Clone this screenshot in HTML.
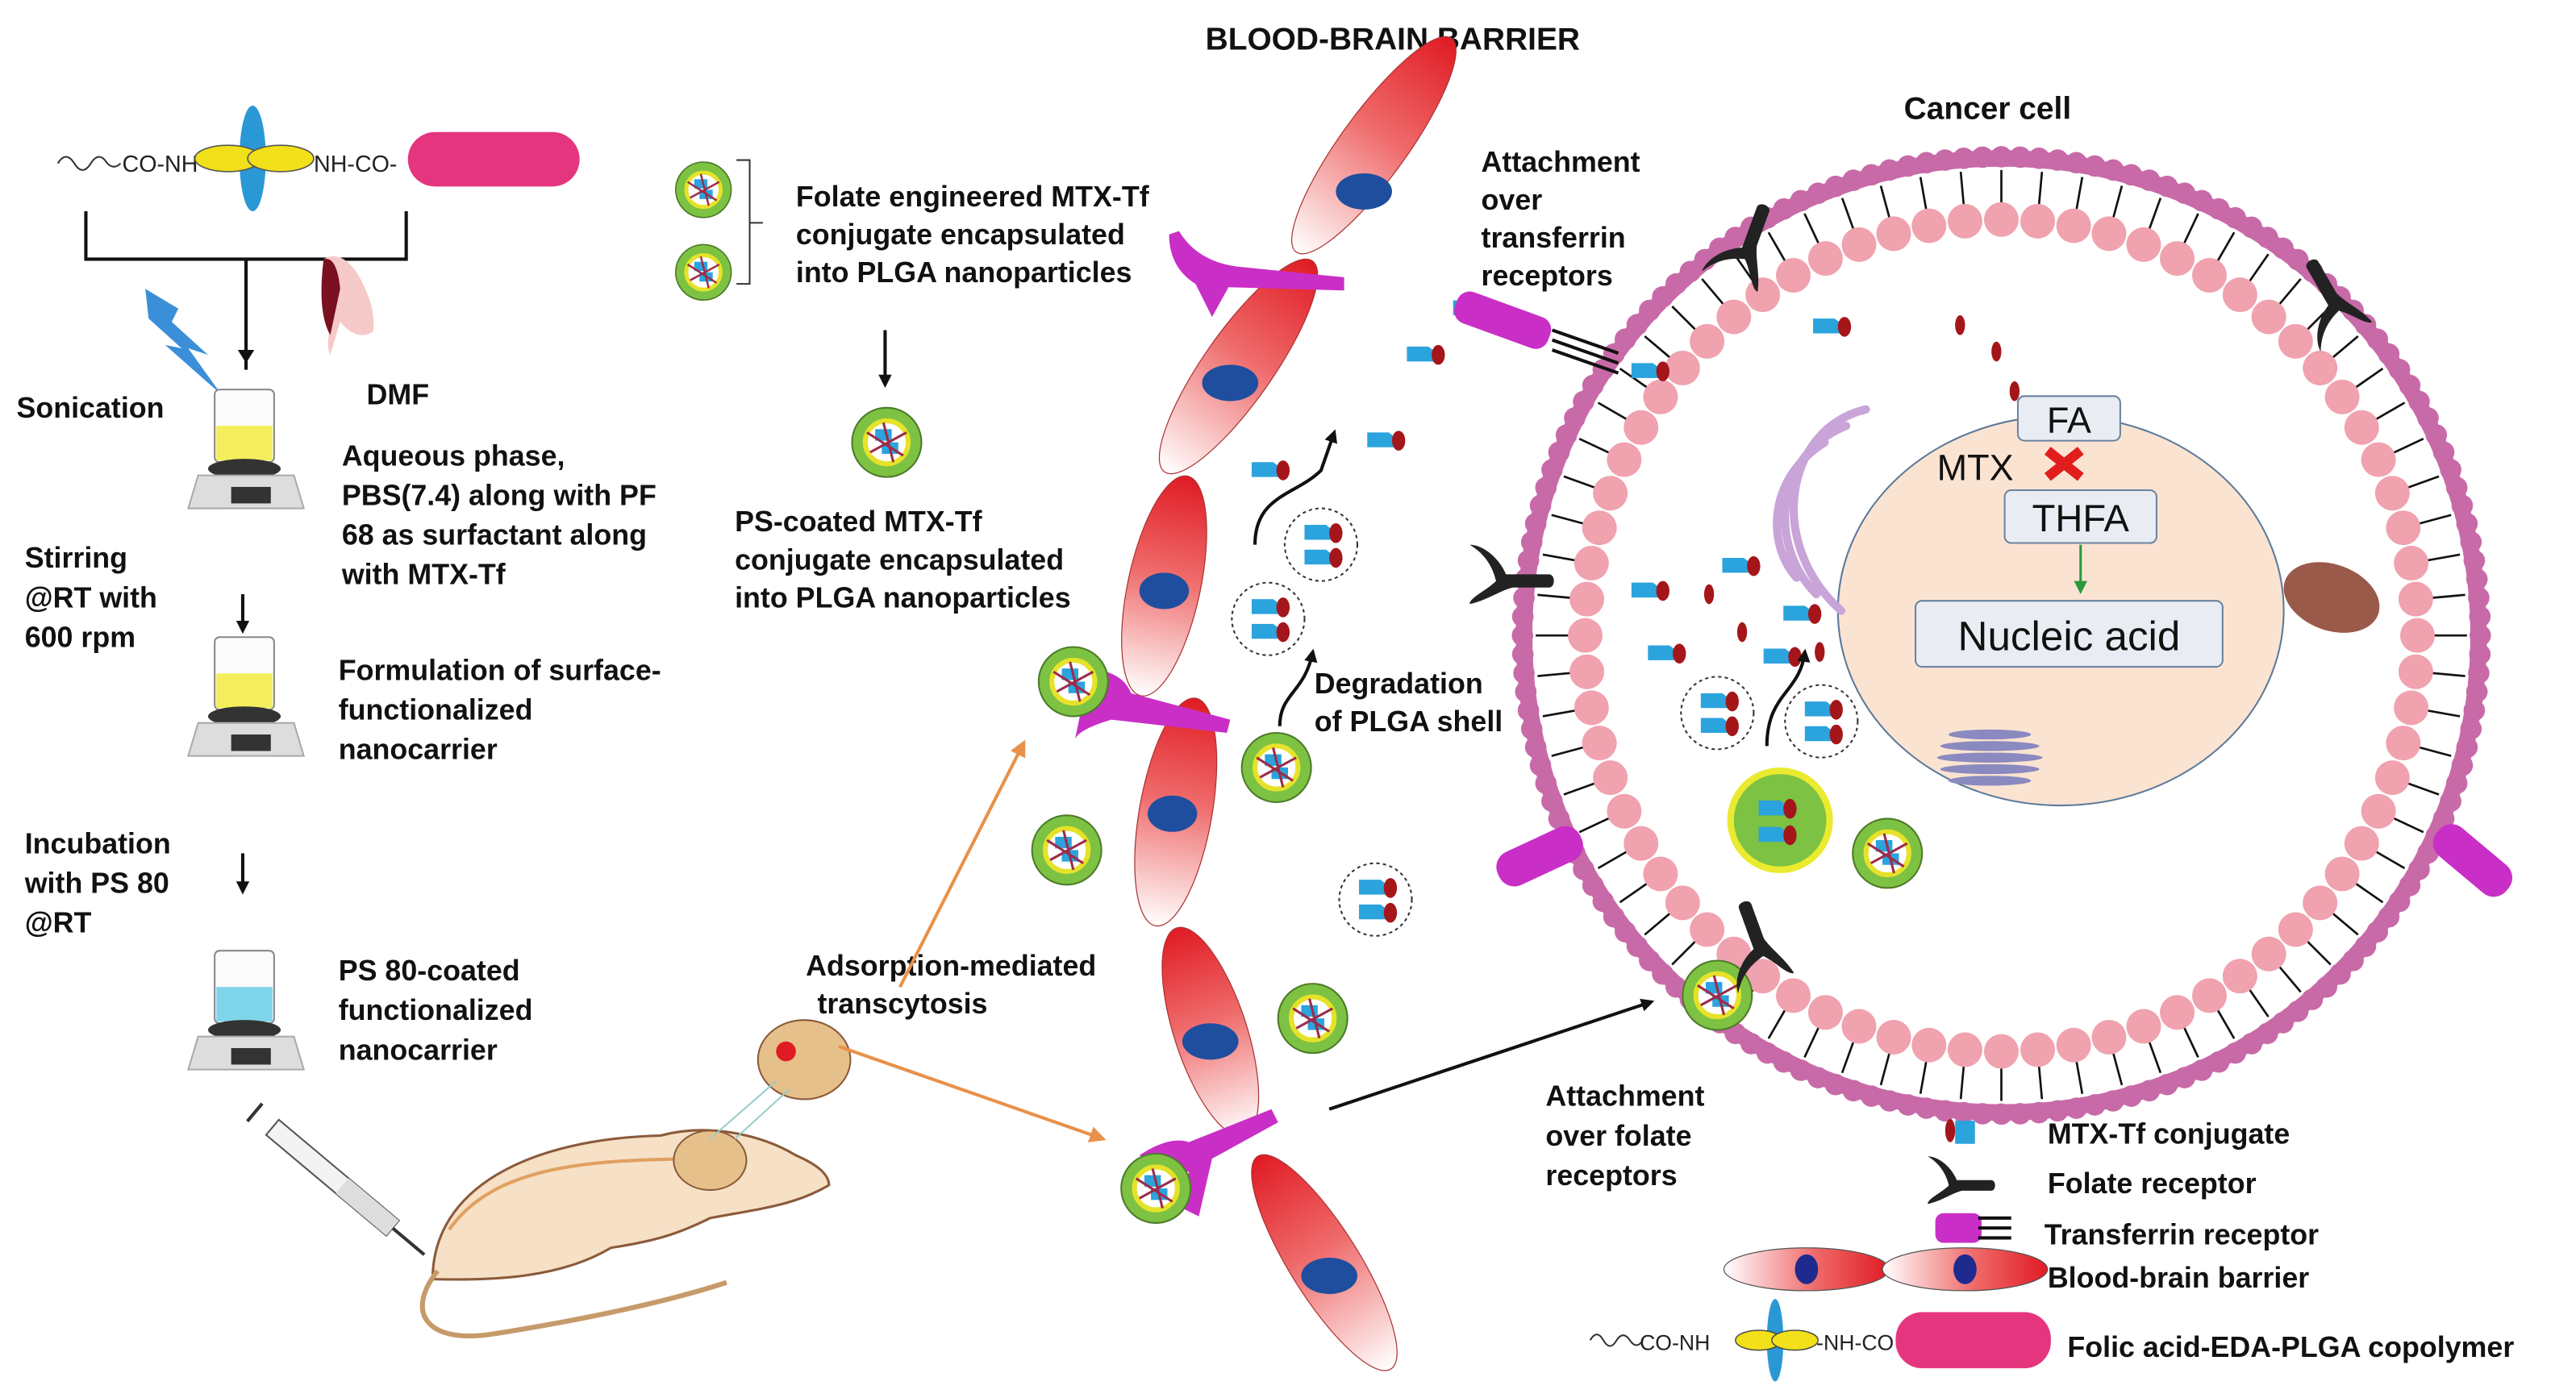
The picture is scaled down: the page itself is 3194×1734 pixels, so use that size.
<!DOCTYPE html>
<html><head><meta charset="utf-8"><style>
html,body{margin:0;padding:0;background:#fff;}
svg{display:block;}
text{font-family:"Liberation Sans",Arial,sans-serif;}
.b{font-weight:bold;font-size:17.5px;fill:#111;}
</style></head><body>
<svg id="s" width="3194" height="1734" viewBox="0 0 1560 847" preserveAspectRatio="none" xmlns="http://www.w3.org/2000/svg">
<defs>
<linearGradient id="cg" x1="0" x2="1" y1="0" y2="0"><stop offset="0" stop-color="#fff"/><stop offset="0.55" stop-color="#ef6b6b"/><stop offset="1" stop-color="#e01b24"/></linearGradient>
<marker id="ak" markerWidth="8" markerHeight="8" refX="6" refY="4" orient="auto" markerUnits="userSpaceOnUse"><path d="M0,0L8,4L0,8z" fill="#111"/></marker>
<marker id="ao" markerWidth="10" markerHeight="10" refX="8" refY="5" orient="auto" markerUnits="userSpaceOnUse"><path d="M0,0L10,5L0,10z" fill="#e8914a"/></marker>
<marker id="ag" markerWidth="8" markerHeight="8" refX="6" refY="4" orient="auto" markerUnits="userSpaceOnUse"><path d="M0,0L8,4L0,8z" fill="#2a9a3a"/></marker>
<g id="np"><circle r="21" fill="#7dc242" stroke="#4c7a2a" stroke-width="1"/><circle r="13" fill="#fff" stroke="#e6e22a" stroke-width="3"/><rect x="-7" y="-8" width="10" height="7" fill="#2ba3dd"/><rect x="-3" y="0" width="10" height="7" fill="#2ba3dd"/><path d="M-12,-6L10,8M-10,6L12,-6M-2,-12L4,12" stroke="#9b2c4a" stroke-width="1.5"/></g>
<g id="mt"><path d="M0,-5h13l4,3v6h-17z" fill="#2ba3dd"/><ellipse cx="19" cy="0" rx="4" ry="6" fill="#a4161a"/></g>
<g id="ves"><circle r="22" fill="none" stroke="#333" stroke-dasharray="2 2"/><use href="#mt" x="-10" y="-7"/><use href="#mt" x="-10" y="8"/></g>
<g id="fr"><path d="M0,0 C-4,-10 -14,-18 -22,-18 C-12,-12 -8,-4 -6,4 C-12,10 -22,14 -22,18 C-12,16 -4,10 4,8 L26,8 C30,8 30,0 26,0 Z" fill="#222"/></g>
</defs>

<text x="730" y="30" class="b" style="font-size:19px">BLOOD-BRAIN BARRIER</text>
<text x="1153" y="72" class="b" style="font-size:19px">Cancer cell</text>

<path d="M35,99 q5,-8 10,0 q5,8 10,0 q5,-8 10,0 q4,4 8,0" fill="none" stroke="#333"/>
<text x="74" y="104" font-size="14" fill="#222">CO-NH</text>
<ellipse cx="153" cy="96" rx="8" ry="32" fill="#2b98d6"/>
<ellipse cx="138" cy="96" rx="20" ry="8" fill="#f2e01a" stroke="#555" stroke-width=".8"/>
<ellipse cx="170" cy="96" rx="20" ry="8" fill="#f2e01a" stroke="#555" stroke-width=".8"/>
<text x="190" y="104" font-size="14" fill="#222">NH-CO-</text>
<rect x="247" y="80" width="104" height="33" rx="16.5" fill="#e6357f"/>
<path d="M52,128 V157 H246 V128 M149,157 V224" fill="none" stroke="#111" stroke-width="2"/>
<path d="M149,220 l-5,-8 h10z" fill="#111"/>
<path d="M88,175 l20,12 l-4,8 l22,20 l-12,-4 l20,28 l-34,-30 l10,2 l-20,-18z" fill="#3b8fd8"/>
<path d="M196,157 q10,-6 20,8 q12,20 10,36 q-10,6 -20,-6 l-6,20 q-4,-8 4,-30 z" fill="#f6c9c9"/><path d="M196,157 q8,-2 10,18 l-6,28 q-8,-14 -4,-46z" fill="#7a1020"/>
<text x="10" y="253" class="b">Sonication</text>
<text x="222" y="245" class="b">DMF</text>

<g id="bk"><rect x="130" y="236" width="36" height="44" rx="3" fill="#fbfbfb" stroke="#888"/><rect x="131" y="258" width="34" height="21" fill="#f4ee5c"/><ellipse cx="148" cy="284" rx="22" ry="6" fill="#333"/><path d="M120,288 h58 l6,20 h-70z" fill="#ddd" stroke="#aaa"/><rect x="140" y="295" width="24" height="10" fill="#333"/></g>
<text x="207" y="282" class="b">Aqueous phase,</text>
<text x="207" y="306" class="b">PBS(7.4) along with PF</text>
<text x="207" y="330" class="b">68 as surfactant along</text>
<text x="207" y="354" class="b">with MTX-Tf</text>
<text x="15" y="344" class="b">Stirring</text>
<text x="15" y="368" class="b">@RT with</text>
<text x="15" y="392" class="b">600 rpm</text>
<path d="M147,360 V382" stroke="#111" stroke-width="2" marker-end="url(#ak)"/>
<use href="#bk" y="150"/>
<text x="205" y="412" class="b">Formulation of surface-</text>
<text x="205" y="436" class="b">functionalized</text>
<text x="205" y="460" class="b">nanocarrier</text>
<text x="15" y="517" class="b">Incubation</text>
<text x="15" y="541" class="b">with PS 80</text>
<text x="15" y="565" class="b">@RT</text>
<path d="M147,517 V540" stroke="#111" stroke-width="2" marker-end="url(#ak)"/>
<g transform="translate(0,340)"><rect x="130" y="236" width="36" height="44" rx="3" fill="#fbfbfb" stroke="#888"/><rect x="131" y="258" width="34" height="21" fill="#7fd6ea"/><ellipse cx="148" cy="284" rx="22" ry="6" fill="#333"/><path d="M120,288 h58 l6,20 h-70z" fill="#ddd" stroke="#aaa"/><rect x="140" y="295" width="24" height="10" fill="#333"/></g>
<text x="205" y="594" class="b">PS 80-coated</text>
<text x="205" y="618" class="b">functionalized</text>
<text x="205" y="642" class="b">nanocarrier</text>

<g transform="translate(165,683) rotate(40)"><rect x="0" y="-6" width="95" height="12" fill="#f3f3f3" stroke="#555"/><rect x="55" y="-6" width="40" height="12" fill="#ddd"/><path d="M-14,-7v14M95,0h25" stroke="#333" stroke-width="2"/></g>

<path d="M262,775 C262,720 320,690 400,688 C430,680 462,688 482,700 C496,706 502,712 502,718 C482,730 462,732 430,738 C410,748 396,752 370,756 C340,774 300,776 262,775 Z" fill="#f6e0c6" stroke="#8a5a3a" stroke-width="1.5"/>
<path d="M265,770 C245,795 258,815 300,808 C350,800 400,790 440,777" fill="none" stroke="#c79a6a" stroke-width="3"/>
<path d="M272,745 C300,705 360,703 420,702" fill="none" stroke="#e0a060" stroke-width="2"/>
<ellipse cx="430" cy="703" rx="22" ry="18" fill="#e6c08a" stroke="#8a5a3a"/>
<ellipse cx="487" cy="642" rx="28" ry="24" fill="#e6c08a" stroke="#8a5a3a"/><circle cx="476" cy="637" r="6" fill="#e01b24"/>
<path d="M430,690 L470,655 M445,690 L478,660" stroke="#9cc" stroke-width="1"/>

<use href="#np" transform="translate(426,115) scale(.8)"/>
<use href="#np" transform="translate(426,165) scale(.8)"/>
<path d="M446,97 h8 v75 h-8 M454,135 h8" fill="none" stroke="#333"/>
<text x="482" y="125" class="b">Folate engineered MTX-Tf</text>
<text x="482" y="148" class="b">conjugate encapsulated</text>
<text x="482" y="171" class="b">into PLGA nanoparticles</text>
<path d="M536,200 V233" stroke="#111" stroke-width="2" marker-end="url(#ak)"/>
<use href="#np" x="537" y="268"/>
<text x="445" y="322" class="b">PS-coated MTX-Tf</text>
<text x="445" y="345" class="b">conjugate encapsulated</text>
<text x="445" y="368" class="b">into PLGA nanoparticles</text>
<text x="488" y="591" class="b">Adsorption-mediated</text>
<text x="495" y="614" class="b">transcytosis</text>
<path d="M545,598 L620,450" stroke="#e8914a" stroke-width="2" marker-end="url(#ao)"/>
<path d="M508,634 L668,690" stroke="#e8914a" stroke-width="2" marker-end="url(#ao)"/>

<g stroke="#a33" stroke-width=".6">
<ellipse cx="832" cy="88" rx="80" ry="20" fill="url(#cg)" transform="rotate(-54 832 88)"/>
<ellipse cx="750" cy="222" rx="78" ry="21" fill="url(#cg)" transform="rotate(-55 750 222)"/>
<ellipse cx="705" cy="355" rx="68" ry="22" fill="url(#cg)" transform="rotate(-78 705 355)"/>
<ellipse cx="712" cy="492" rx="70" ry="22" fill="url(#cg)" transform="rotate(-80 712 492)"/>
<ellipse cx="733" cy="625" rx="66" ry="22" fill="url(#cg)" transform="rotate(-108 733 625)"/>
<ellipse cx="802" cy="765" rx="76" ry="21" fill="url(#cg)" transform="rotate(-122 802 765)"/>
</g>
<g fill="#1f4e9e"><ellipse cx="826" cy="116" rx="17" ry="11"/><ellipse cx="745" cy="232" rx="17" ry="11"/><ellipse cx="705" cy="358" rx="15" ry="11"/><ellipse cx="710" cy="493" rx="15" ry="11"/><ellipse cx="733" cy="631" rx="17" ry="11"/><ellipse cx="805" cy="773" rx="17" ry="11"/></g>
<g fill="#c92fc6">
<path d="M714,140 q12,20 40,22 l60,6 l0,8 l-70,-2 l-10,18 l-10,-20 q-16,-10 -16,-30z"/>
<path d="M660,405 q20,2 25,15 l60,16 l-2,8 l-70,-8 q-20,6 -22,12 z"/>
<path d="M690,700 q18,-12 30,-8 l50,-20 l4,8 l-40,22 l-8,35 l-10,-5 l4,-22 q-20,-4 -30,-10z"/>
</g>
<use href="#np" x="650" y="413"/>
<use href="#np" x="646" y="515"/>
<use href="#np" x="700" y="720"/>
<use href="#np" x="773" y="465"/>
<use href="#np" x="795" y="617"/>
<use href="#ves" x="768" y="375"/>
<use href="#ves" x="800" y="330"/>
<use href="#ves" x="833" y="545"/>
<use href="#mt" x="758" y="285"/>
<use href="#mt" x="828" y="267"/>
<use href="#mt" x="852" y="215"/>
<use href="#mt" x="880" y="187"/>
<path d="M760,330 C760,300 785,300 800,285 L808,262" fill="none" stroke="#111" stroke-width="2" marker-end="url(#ak)"/>
<path d="M775,440 C775,420 790,420 795,395" fill="none" stroke="#111" stroke-width="2" marker-end="url(#ak)"/>
<text x="796" y="420" class="b">Degradation</text>
<text x="796" y="443" class="b">of PLGA shell</text>
<text x="897" y="104" class="b">Attachment</text>
<text x="897" y="127" class="b">over</text>
<text x="897" y="150" class="b">transferrin</text>
<text x="897" y="173" class="b">receptors</text>
<text x="936" y="670" class="b">Attachment</text>
<text x="936" y="694" class="b">over folate</text>
<text x="936" y="718" class="b">receptors</text>
<path d="M805,672 L1000,607" stroke="#111" stroke-width="2" marker-end="url(#ak)"/>

<g id="cell"></g>
<ellipse cx="1248" cy="370" rx="135" ry="118" fill="#fbe3d2" stroke="#5a7a9a" stroke-width="1"/>
<rect x="1222" y="240" width="62" height="27" rx="4" fill="#e9edf3" stroke="#6a82a0"/><text x="1253" y="262" font-size="22" text-anchor="middle" fill="#111">FA</text>
<text x="1173" y="291" font-size="22" fill="#111">MTX</text>
<path d="M1240,273 l20,16 M1260,273 l-20,16" stroke="#e21d1d" stroke-width="6"/>
<rect x="1214" y="297" width="92" height="32" rx="4" fill="#e9edf3" stroke="#6a82a0"/><text x="1260" y="322" font-size="23" text-anchor="middle" fill="#111">THFA</text>
<path d="M1260,330 V358" stroke="#2a9a3a" stroke-width="1.5" marker-end="url(#ag)"/>
<rect x="1160" y="364" width="186" height="40" rx="4" fill="#e9edf3" stroke="#6a82a0"/><text x="1253" y="394" font-size="25" text-anchor="middle" fill="#111">Nucleic acid</text>
<g fill="none" stroke="#c8a4d8" stroke-width="5" stroke-linecap="round"><path d="M1130,248 C1080,260 1070,330 1115,370"/><path d="M1118,258 C1075,275 1070,330 1100,360"/><path d="M1105,268 C1070,290 1070,330 1088,350"/></g>
<ellipse cx="1412" cy="362" rx="30" ry="20" fill="#9a5a4a" transform="rotate(20 1412 362)"/>
<g fill="#8a8ac0"><ellipse cx="1205" cy="445" rx="25" ry="3"/><ellipse cx="1205" cy="452" rx="30" ry="3"/><ellipse cx="1205" cy="459" rx="32" ry="3"/><ellipse cx="1205" cy="466" rx="30" ry="3"/><ellipse cx="1205" cy="473" rx="25" ry="3"/></g>
<use href="#mt" x="1098" y="198"/><use href="#mt" x="988" y="225"/>
<ellipse cx="1187" cy="197" rx="3" ry="6" fill="#a4161a"/><ellipse cx="1209" cy="213" rx="3" ry="6" fill="#a4161a"/><ellipse cx="1220" cy="237" rx="3" ry="6" fill="#a4161a"/>
<use href="#mt" x="988" y="358"/><use href="#mt" x="998" y="396"/><use href="#mt" x="1043" y="343"/><use href="#mt" x="1080" y="372"/><use href="#mt" x="1068" y="398"/>
<ellipse cx="1035" cy="360" rx="3" ry="6" fill="#a4161a"/><ellipse cx="1055" cy="383" rx="3" ry="6" fill="#a4161a"/><ellipse cx="1102" cy="395" rx="3" ry="6" fill="#a4161a"/>
<use href="#ves" x="1040" y="432"/><use href="#ves" x="1103" y="437"/>
<path d="M1070,452 C1070,420 1090,420 1093,395" fill="none" stroke="#111" stroke-width="2" marker-end="url(#ak)"/>
<circle cx="1078" cy="497" r="30" fill="#7dc242" stroke="#eaea30" stroke-width="4"/><use href="#mt" x="1065" y="490"/><use href="#mt" x="1065" y="506"/>
<use href="#np" x="1143" y="517"/>
<use href="#np" x="1040" y="603"/>
<g fill="#222">
<use href="#fr" transform="translate(1055,150) rotate(-70)"/>
<use href="#fr" transform="translate(1410,185) rotate(-120)"/>
<use href="#fr" transform="translate(912,348) rotate(0)"/>
<use href="#fr" transform="translate(1062,575) rotate(-110)"/>
</g>
<g fill="#c92fc6"><rect x="880" y="184" width="60" height="20" rx="8" transform="rotate(20 910 194)"/><rect x="905" y="508" width="55" height="22" rx="10" transform="rotate(-25 932 519)"/><rect x="1470" y="510" width="55" height="22" rx="10" transform="rotate(40 1497 521)"/></g>
<path d="M940,200 l40,14 M940,206 l40,14 M940,212 l40,14" stroke="#111" stroke-width="2"/>

<ellipse cx="1181" cy="685" rx="3" ry="7" fill="#a4161a"/><rect x="1184" y="679" width="12" height="14" fill="#2ba3dd"/>
<text x="1240" y="693" class="b">MTX-Tf conjugate</text>
<use href="#fr" transform="translate(1185,715) scale(.8)"/>
<text x="1240" y="723" class="b">Folate receptor</text>
<rect x="1172" y="735" width="28" height="18" rx="5" fill="#c92fc6"/><path d="M1198,738h20M1198,744h20M1198,750h20" stroke="#111" stroke-width="2"/>
<text x="1238" y="754" class="b">Transferrin receptor</text>
<ellipse cx="1094" cy="769" rx="50" ry="13" fill="url(#cg)" stroke="#555" stroke-width=".6"/><ellipse cx="1190" cy="769" rx="50" ry="13" fill="url(#cg)" stroke="#555" stroke-width=".6"/>
<ellipse cx="1094" cy="769" rx="7" ry="9" fill="#1f2a8e"/><ellipse cx="1190" cy="769" rx="7" ry="9" fill="#1f2a8e"/>
<text x="1240" y="780" class="b">Blood-brain barrier</text>
<path d="M963,812 q4,-7 8,0 q4,7 8,0 q4,-6 8,0 q4,6 8,0" fill="none" stroke="#333"/>
<text x="993" y="818" font-size="13" fill="#222">CO-NH</text>
<ellipse cx="1075" cy="812" rx="5" ry="25" fill="#2b98d6"/>
<ellipse cx="1065" cy="812" rx="14" ry="6" fill="#f2e01a" stroke="#444" stroke-width=".7"/><ellipse cx="1087" cy="812" rx="14" ry="6" fill="#f2e01a" stroke="#444" stroke-width=".7"/>
<text x="1100" y="818" font-size="13" fill="#222">-NH-CO</text>
<rect x="1148" y="795" width="94" height="34" rx="16" fill="#e6357f"/>
<text x="1252" y="822" class="b">Folic acid-EDA-PLGA copolymer</text>
</svg>
<script>
(function(){
var g=document.getElementById('cell'),cx=1212,cy=385,h='';
h+='<circle cx="'+cx+'" cy="'+cy+'" r="289" fill="none" stroke="#c86aa8" stroke-width="10"/>';
var n=160;
for(var i=0;i<n;i++){var a=2*Math.PI*i/n;
 h+='<circle cx="'+(cx+290*Math.cos(a)).toFixed(1)+'" cy="'+(cy+290*Math.sin(a)).toFixed(1)+'" r="6.5" fill="#c86aa8"/>';}
var m=72;
for(var i=0;i<m;i++){var a=2*Math.PI*i/m;var c=Math.cos(a),s=Math.sin(a);
 h+='<line x1="'+(cx+262*c).toFixed(1)+'" y1="'+(cy+262*s).toFixed(1)+'" x2="'+(cx+282*c).toFixed(1)+'" y2="'+(cy+282*s).toFixed(1)+'" stroke="#111" stroke-width="1.3"/>';
 h+='<circle cx="'+(cx+252*c).toFixed(1)+'" cy="'+(cy+252*s).toFixed(1)+'" r="10.5" fill="#f0a2ae"/>';}
g.innerHTML=h;
})();
</script>
</body></html>
